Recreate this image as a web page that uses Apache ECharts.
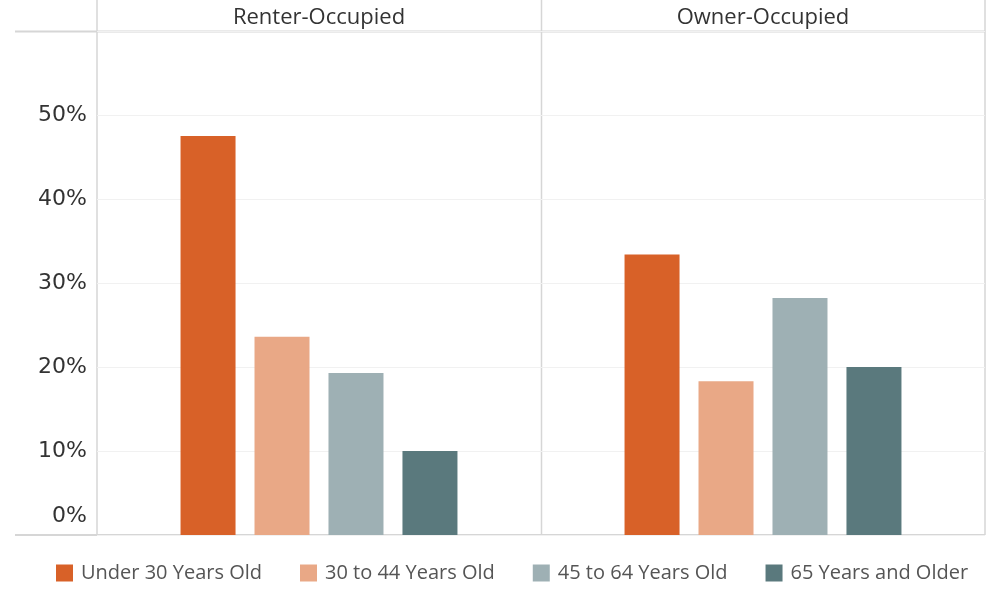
<!DOCTYPE html>
<html>
<head>
<meta charset="utf-8">
<script src="https://cdn.jsdelivr.net/npm/echarts@6/dist/echarts.min.js"></script>
<style>html,body{margin:0;padding:0;background:#fff;}#c{width:1000px;height:607px;}</style>
</head>
<body>
<div id="c"></div>
<script>
const panels = ['Renter-Occupied', 'Owner-Occupied'];
const ageGroups = ['Under 30 Years Old', '30 to 44 Years Old', '45 to 64 Years Old', '65 Years and Older'];
const renterValues = [47.5, 23.6, 19.3, 10.0];
const ownerValues = [33.4, 18.3, 28.2, 20.0];
const yTicks = [0, 10, 20, 30, 40, 50];
const colors = ['#d86128', '#e9a886', '#9eb0b4', '#5a797d'];

const panelValues = [renterValues, ownerValues];
const chart = echarts.init(document.getElementById('c'));
const lineColor = '#d6d6d6';

const series = [];
panelValues.forEach((vals, p) => {
  ageGroups.forEach((name, i) => {
    series.push({
      type: 'bar',
      name: name,
      xAxisIndex: p,
      yAxisIndex: p,
      data: [vals[i]],
      barWidth: 55,
      barGap: '34.5%',
      itemStyle: { color: colors[i] },
      emphasis: { disabled: true }
    });
  });
});

chart.setOption({
  animation: false,
  backgroundColor: '#ffffff',
  color: colors,
  grid: [
    { left: 97, right: 459, top: 31, bottom: 72 },
    { left: 541, right: 15, top: 31, bottom: 72 }
  ],
  xAxis: panels.map((name, p) => ({
    type: 'category',
    gridIndex: p,
    position: 'top',
    data: [name],
    axisLine: { show: false },
    axisTick: { show: false },
    axisLabel: {
      show: true,
      margin: 2,
      fontFamily: 'Open Sans',
      fontSize: 22,
      color: '#333333'
    }
  })),
  yAxis: panels.map((name, p) => ({
    type: 'value',
    gridIndex: p,
    min: 0,
    max: 60,
    interval: 10,
    axisLine: { show: false },
    axisTick: { show: false },
    splitLine: { show: true, lineStyle: { color: '#f1f1f1', width: 1 } },
    axisLabel: {
      show: p === 0,
      margin: 10,
      fontFamily: 'DejaVu Sans',
      fontSize: 22,
      color: '#333333',
      padding: [18, 0, 8, 0],
      verticalAlignMinLabel: 'bottom',
      formatter: v => (yTicks.indexOf(v) >= 0 ? v + '%' : '')
    }
  })),
  legend: {
    left: 56,
    top: 563,
    padding: 0,
    itemWidth: 17,
    itemHeight: 17,
    itemGap: 38,
    icon: 'rect',
    selectedMode: false,
    data: ageGroups,
    textStyle: {
      fontFamily: 'Open Sans',
      fontSize: 20,
      color: '#555555',
      padding: [0, 0, 0, 3]
    }
  },
  graphic: [
    { type: 'line', shape: { x1: 15, y1: 31.5, x2: 985, y2: 31.5 }, style: { stroke: lineColor, lineWidth: 2 }, silent: true },
    { type: 'line', shape: { x1: 15, y1: 535, x2: 985, y2: 535 }, style: { stroke: lineColor, lineWidth: 2 }, silent: true },
    { type: 'line', shape: { x1: 97, y1: 0, x2: 97, y2: 535 }, style: { stroke: lineColor, lineWidth: 1.5 }, silent: true },
    { type: 'line', shape: { x1: 541.5, y1: 0, x2: 541.5, y2: 535 }, style: { stroke: lineColor, lineWidth: 1.5 }, silent: true },
    { type: 'line', shape: { x1: 985, y1: 0, x2: 985, y2: 535 }, style: { stroke: lineColor, lineWidth: 1.5 }, silent: true }
  ],
  series: series
});
</script>
</body>
</html>
